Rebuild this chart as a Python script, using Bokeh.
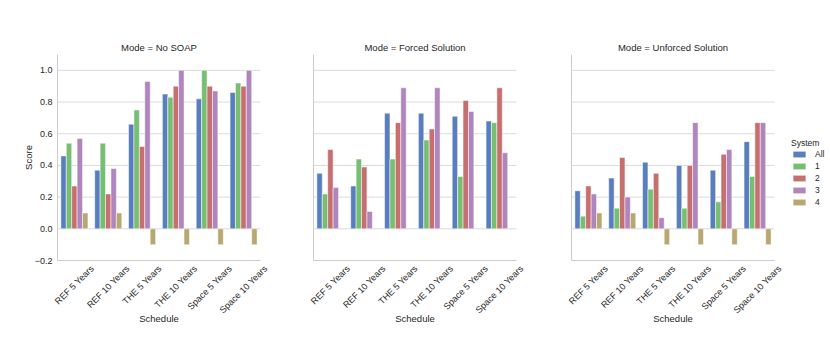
import math
import numpy as np
from bokeh.plotting import figure
from bokeh.models import (ColumnDataSource, FactorRange, Range1d,
                          Label, LabelSet, Legend, LegendItem, Title)
from bokeh.layouts import row
from bokeh.transform import dodge
from bokeh.embed import file_html
from bokeh.resources import INLINE
from bokeh.core.properties import value

nan = float("nan")

# ---------------- data ----------------
schedules = ["REF 5 Years", "REF 10 Years", "THE 5 Years", "THE 10 Years",
             "Space 5 Years", "Space 10 Years"]
systems = ["All", "1", "2", "3", "4"]
modes = ["No SOAP", "Forced Solution", "Unforced Solution"]
y_ticks = [-0.2, 0.0, 0.2, 0.4, 0.6, 0.8, 1.0]
y_tick_labels = ["\u22120.2", "0.0", "0.2", "0.4", "0.6", "0.8", "1.0"]

no_soap_all = [0.46, 0.37, 0.66, 0.85, 0.82, 0.86]
no_soap_1 = [0.54, 0.54, 0.75, 0.83, 1.00, 0.92]
no_soap_2 = [0.27, 0.22, 0.52, 0.90, 0.90, 0.90]
no_soap_3 = [0.57, 0.38, 0.93, 1.00, 0.87, 1.00]
no_soap_4 = [0.10, 0.10, -0.10, -0.10, -0.10, -0.10]

forced_all = [0.35, 0.27, 0.73, 0.73, 0.71, 0.68]
forced_1 = [0.22, 0.44, 0.44, 0.56, 0.33, 0.67]
forced_2 = [0.50, 0.39, 0.67, 0.63, 0.81, 0.89]
forced_3 = [0.26, 0.11, 0.89, 0.89, 0.74, 0.48]
forced_4 = [nan, nan, nan, nan, nan, nan]

unforced_all = [0.24, 0.32, 0.42, 0.40, 0.37, 0.55]
unforced_1 = [0.08, 0.13, 0.25, 0.13, 0.17, 0.33]
unforced_2 = [0.27, 0.45, 0.35, 0.40, 0.47, 0.67]
unforced_3 = [0.22, 0.20, 0.07, 0.67, 0.50, 0.67]
unforced_4 = [0.10, 0.10, -0.10, -0.10, -0.10, -0.10]

panel_series = [
    [no_soap_all, no_soap_1, no_soap_2, no_soap_3, no_soap_4],
    [forced_all, forced_1, forced_2, forced_3, forced_4],
    [unforced_all, unforced_1, unforced_2, unforced_3, unforced_4],
]

# ---------------- style ----------------
colors = ["#597EBE", "#76BF72", "#C76E6E", "#AF85BD", "#B8A771"]
FONT = "Liberation Sans"
TXT = "#262626"
GRID = "#dadada"
SPINE = "#cccccc"
TICK_FS = 9.0
TITLE_FS = "9.5px"
LABEL_FS = 9.5

ARIAL = {' ': 278, '.': 278, '-': 333, 'A': 667, 'E': 667, 'F': 611, 'H': 722, 'R': 722,
         'S': 667, 'T': 611, 'Y': 667, 'a': 556, 'c': 500, 'e': 556, 'p': 556, 'r': 333,
         's': 500, 'o': 556}


def text_w(s, fs):
    return sum(ARIAL.get(c, 556) for c in s) / 1000.0 * fs


# layout (pixels)
AXW = 203                 # width of each axes area (spine to right end)
PADS = [24, 12, 12]       # extra frame on each side (room for tick labels)
AX_H = 206                # height of the axes area (1.1 .. -0.2)
FT = 54                   # frame top
FH = 286                  # frame height (extended below the axes for the tick labels)
Y_TOP, Y_BOT_AX = 1.1, -0.2
PXU = AX_H / (Y_TOP - Y_BOT_AX)
Y_BOT = Y_TOP - FH / PXU
AX_LEFT = [57, 313, 571]  # spine positions in the page
offsets = [-0.32, -0.16, 0.0, 0.16, 0.32]
BAR_W = 0.16
TOTAL_W = 830

figs = []
x_start = 0
for i, mode in enumerate(modes):
    padx = PADS[i]
    fw = AXW + 2 * padx
    left_b = AX_LEFT[i] - padx - x_start
    if i < 2:
        right_b = AX_LEFT[i + 1] - PADS[i + 1] - (AX_LEFT[i] + AXW + padx)
        right_b = max(right_b, 0) // 2 + (max(right_b, 0) % 2)
    else:
        right_b = TOTAL_W - (AX_LEFT[i] + AXW + padx)
    p = figure(x_range=FactorRange(factors=schedules, range_padding=padx / (AXW / len(schedules)),
                                   range_padding_units="absolute"),
               y_range=Range1d(Y_BOT, Y_TOP),
               frame_width=fw, frame_height=FH,
               min_border_left=left_b, min_border_right=right_b,
               min_border_top=FT, min_border_bottom=0,
               toolbar_location=None, output_backend="svg",
               title="Mode = " + mode)
    x_start = AX_LEFT[i] - padx + fw + right_b
    p.outline_line_color = None
    p.background_fill_color = "white"
    p.border_fill_color = "white"

    p.title.align = "center"
    p.title.text_font = FONT
    p.title.text_font_size = TITLE_FS
    p.title.text_font_style = "normal"
    p.title.text_color = TXT
    p.title.standoff = 3

    p.xgrid.visible = False
    p.ygrid.visible = False
    p.xaxis.visible = False
    p.yaxis.visible = False

    # horizontal grid lines and spines, bounded to the axes area
    n_cat = len(schedules)
    grid_src = ColumnDataSource(dict(x0=[0] * len(y_ticks), x1=[n_cat] * len(y_ticks),
                                     y=y_ticks))
    p.segment(x0="x0", x1="x1", y0="y", y1="y", source=grid_src,
              line_color=GRID, line_width=1)
    p.segment(x0=[0], x1=[0], y0=[Y_BOT_AX], y1=[Y_TOP], line_color=SPINE, line_width=1)
    p.segment(x0=[0], x1=[n_cat], y0=[Y_BOT_AX], y1=[Y_BOT_AX], line_color=SPINE, line_width=1)

    if i == 0:
        ylab_src = ColumnDataSource(dict(x=[0] * len(y_ticks), y=y_ticks, text=y_tick_labels))
        p.add_layout(LabelSet(x="x", y="y", x_offset=-5, text="text", source=ylab_src,
                              text_align="right", text_baseline="middle",
                              text_font=value(FONT), text_font_size="%.1fpx" % TICK_FS,
                              text_color=TXT))
        score_w = text_w("Score", LABEL_FS)
        p.add_layout(Title(text="Score", align="left",
                           offset=FH - AX_H / 2 - score_w / 2,
                           text_font=FONT, text_font_size="%.1fpx" % LABEL_FS,
                           text_font_style="normal", text_color=TXT, standoff=0), "left")

    data = {"schedule": schedules}
    for j in range(len(systems)):
        data["v%d" % j] = np.array(panel_series[i][j], dtype=float)
    src = ColumnDataSource(data)

    renderers = []
    for j, sysname in enumerate(systems):
        r = p.vbar(x=dodge("schedule", offsets[j], range=p.x_range), top="v%d" % j, bottom=0,
                   width=BAR_W, source=src, fill_color=colors[j],
                   line_color="white", line_width=0.5)
        renderers.append(r)

    # x tick labels rotated 45 deg, centred on the tick like matplotlib
    pad = 3.0
    tick_src = ColumnDataSource(dict(
        x=schedules,
        y=[Y_BOT_AX] * len(schedules),
        dy=[-(pad + (text_w(s, TICK_FS) + TICK_FS) * 0.3536) for s in schedules],
        text=schedules))
    p.add_layout(LabelSet(x="x", y="y", y_offset="dy", text="text", source=tick_src,
                          angle=math.pi / 4, text_align="center", text_baseline="middle",
                          text_font=value(FONT), text_font_size="%.1fpx" % TICK_FS,
                          text_color=TXT))
    p.add_layout(Label(x=fw / 2, x_units="screen", y=Y_BOT_AX, y_offset=-58, text="Schedule",
                       text_align="center", text_baseline="middle", text_font=FONT,
                       text_font_size="%.1fpx" % LABEL_FS, text_color=TXT))

    if i == 2:
        legend = Legend(items=[LegendItem(label=s, renderers=[r]) for s, r in zip(systems, renderers)],
                        location=(17 - padx, FT + FH - 207), title="System",
                        title_text_font=FONT, title_text_font_size="8.5px",
                        title_text_font_style="normal", title_text_color=TXT, title_standoff=1,
                        label_text_font=FONT, label_text_font_size="8.5px", label_text_color=TXT,
                        glyph_width=16, glyph_height=8, label_height=8, label_standoff=8,
                        spacing=2, padding=0, margin=0,
                        border_line_color=None, background_fill_alpha=0)
        p.add_layout(legend, "right")
    figs.append(p)

layout = row(*figs)
open("out.html", "w").write(file_html(layout, INLINE))
